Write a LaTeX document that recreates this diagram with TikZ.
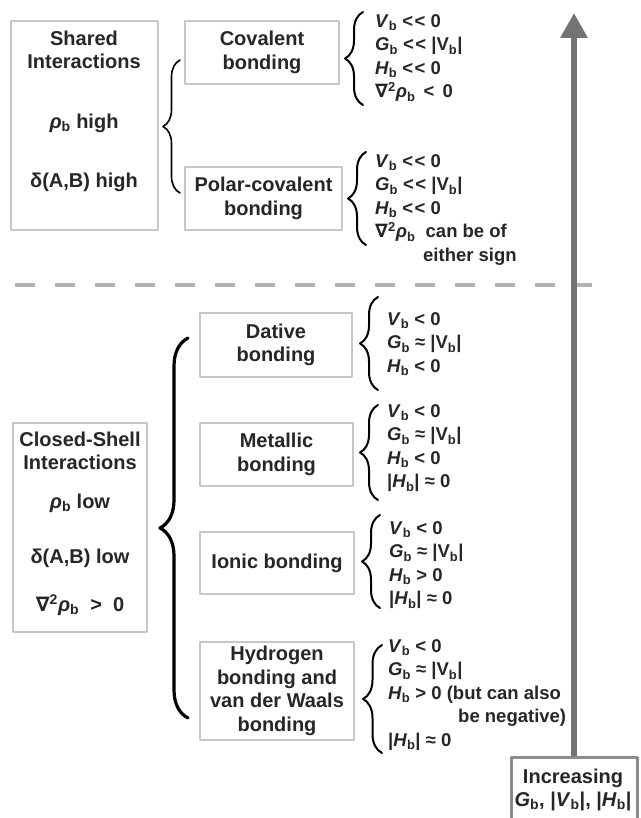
\documentclass[tikz,border=0pt]{standalone}
\usepackage{fontspec}
\setmainfont{Liberation Sans}
\newfontfamily\nablafont{DejaVu Sans}
\usetikzlibrary{arrows.meta,decorations.pathreplacing}
\newcommand{\bsub}{\textsubscript{b}}
\newcommand{\rhob}{\textit{ρ}\bsub}
\newcommand{\lapl}{{\nablafont ∇}\textsuperscript{2}\rhob}
\newcommand{\mlt}{<\kern1.5pt<}

\begin{document}
\begin{tikzpicture}[x=1pt,y=-1pt,line join=round,line cap=round,
		bondbox/.style={draw=black!22,line width=1.2pt,align=center,inner sep=0pt,text=black!85,font=\bfseries\fontsize{20}{23.5}\selectfont},
		txt/.style={align=center,inner sep=0pt,text=black!85,font=\bfseries\fontsize{20}{23.5}\selectfont},
		cond/.style={anchor=north west,align=left,inner sep=0pt,text=black!85,font=\bfseries\fontsize{18.5}{23.5}\selectfont},
		brc/.style={decorate,decoration={brace,amplitude=#1},line width=2pt}]
	\useasboundingbox (0,0) rectangle (640,818);
	% shared interactions
	\node[bondbox,minimum width=147pt,minimum height=209pt] (shared) at (84.5,125.5) {};
	\node[txt] (shtitle) at (84,50) {Shared\\Interactions};
	\node[txt] (shrho) at (84,123) {\rhob{} high};
	\node[txt] (shdelta) at (84,182) {δ(A,B) high};
	\node[bondbox,minimum width=154pt,minimum height=63pt] (cov) at (262,52.5) {Covalent\\bonding};
	\node[bondbox,minimum width=157pt,minimum height=63pt] (polar) at (263.5,198.5) {Polar-covalent\\bonding};
	\draw[brc=17,line width=1.6pt] (180,193)--(180,60);
	% conditions
	\draw[brc=18] (363,105)--(363,12);
	\node[cond] (covc) at (375,14) {\textit{V}\bsub{} \mlt{} 0\\\textit{G}\bsub{} \mlt{} |V\bsub|\\\textit{H}\bsub{} \mlt{} 0\\\lapl{} \,<\, 0};
	\draw[brc=18] (366,245)--(366,152);
	\node[cond] (polarc) at (375,154) {\textit{V}\bsub{} \mlt{} 0\\\textit{G}\bsub{} \mlt{} |V\bsub|\\\textit{H}\bsub{} \mlt{} 0\\\lapl{}\ \ can be of\\\hspace*{48pt}either sign};
	% separator
	\draw[black!30,line width=4pt,line cap=butt,dash pattern=on 20pt off 20pt] (15,285)--(592,285);
	% closed-shell interactions
	\node[bondbox,minimum width=134pt,minimum height=209pt] (closed) at (80,527.5) {};
	\node[txt] (cltitle) at (80,451) {Closed-Shell\\Interactions};
	\node[txt] (clrho) at (80,503) {\rhob{} low};
	\node[txt] (cldelta) at (80,558) {δ(A,B) low};
	\node[txt] (cllapl) at (80,605) {\lapl{} \;>\; 0};
	\node[bondbox,minimum width=152pt,minimum height=64pt] (dative) at (276,345) {Dative\\bonding};
	\node[bondbox,minimum width=153pt,minimum height=63pt] (metal) at (276.5,454.5) {Metallic\\bonding};
	\node[bondbox,minimum width=154pt,minimum height=62pt] (ionic) at (277,563) {Ionic bonding};
	\node[bondbox,minimum width=154pt,minimum height=98pt] (hydro) at (277,691) {Hydrogen\\bonding and\\van der Waals\\bonding};
	\draw[brc=28,line width=3.2pt] (188,718)--(188,338);
	\draw[brc=18] (378,390)--(378,297);
	\node[cond] (dativec) at (387,312) {\textit{V}\bsub{} < 0\\\textit{G}\bsub{} ≈ |V\bsub|\\\textit{H}\bsub{} < 0};
	\draw[brc=18] (378,500)--(378,405);
	\node[cond] (metalc) at (387,404) {\textit{V}\bsub{} < 0\\\textit{G}\bsub{} ≈ |V\bsub|\\\textit{H}\bsub{} < 0\\|\textit{H}\bsub| ≈ 0};
	\draw[brc=18] (380,608)--(380,515);
	\node[cond] (ionicc) at (389,521) {\textit{V}\bsub{} < 0\\\textit{G}\bsub{} ≈ |V\bsub|\\\textit{H}\bsub{} > 0\\|\textit{H}\bsub| ≈ 0};
	\draw[brc=19] (382,753)--(382,645);
	\node[cond] (hydroc) at (388,639) {\textit{V}\bsub{} < 0\\\textit{G}\bsub{} ≈ |V\bsub|\\\textit{H}\bsub{} > 0 (but can also\\\hspace*{70pt}be negative)\\|\textit{H}\bsub| ≈ 0};
	% increasing arrow
	\node[txt,draw=black!45,line width=3pt,minimum width=126pt,minimum height=65pt,text depth=0pt] (inc) at (574,789.5) {};
	\node[txt] (inctext) at (573,790) {Increasing\\\textit{G}\bsub, |\textit{V}\bsub|, |\textit{H}\bsub|};
	\draw[black!55,line width=6pt,line cap=butt,-{Triangle[width=26pt,length=25pt]}] (inc.north) -- (574,13);
\end{tikzpicture}
\end{document}
